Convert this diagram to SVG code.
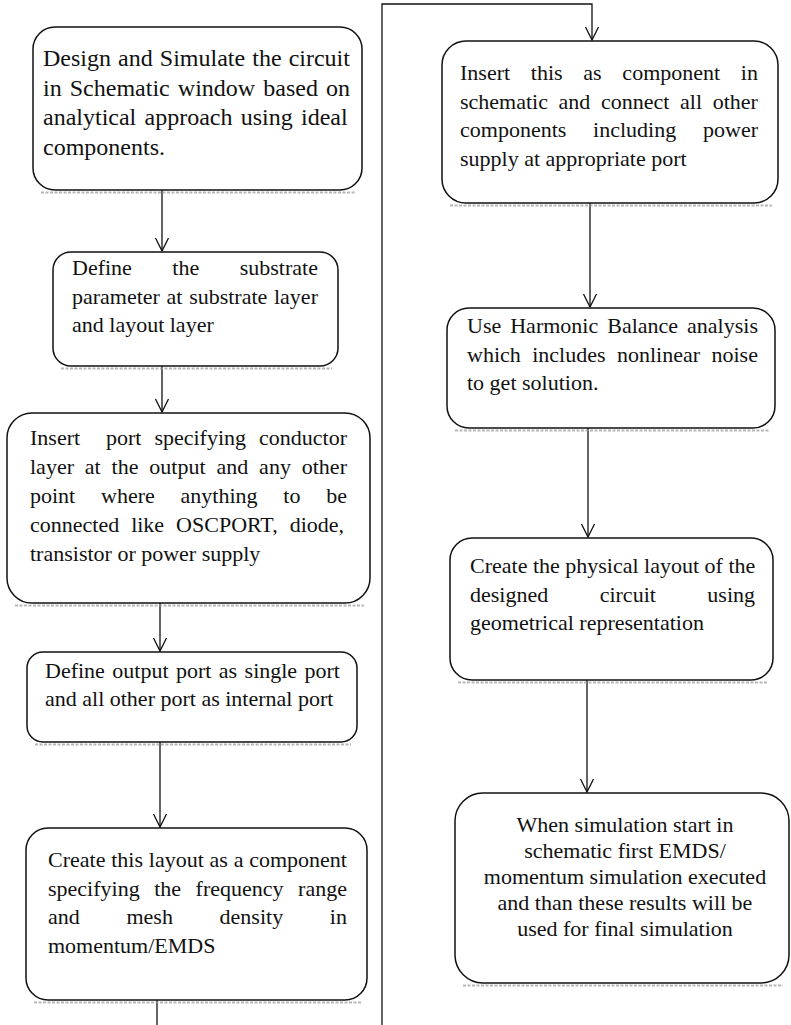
<svg xmlns="http://www.w3.org/2000/svg" width="791" height="1025" viewBox="0 0 791 1025">
<style>
.box{fill:#fff;stroke:#111;stroke-width:1.5}
.sh{stroke:#9a9a9a;stroke-width:2;stroke-dasharray:3 1.5;opacity:.7}
.t{font-family:"Liberation Serif","Times New Roman",serif;font-size:22px;fill:#111}
.t24{font-size:24px}
.c{text-anchor:middle}
.ln{fill:none;stroke:#111;stroke-width:1.3}
</style>
<defs>
<marker id="ah" markerUnits="userSpaceOnUse" markerWidth="16" markerHeight="16" viewBox="-1 -8 15 16" refX="13" refY="0" orient="auto">
<path d="M0,-6.5 L13,0 L0,6.5" fill="none" stroke="#111" stroke-width="1.3"/>
</marker>
</defs>
<rect width="791" height="1025" fill="#fff"/>

<g id="connectors">
<path class="ln" d="M162,190 V251" marker-end="url(#ah)"/>
<path class="ln" d="M162,366 V412" marker-end="url(#ah)"/>
<path class="ln" d="M160,603 V651" marker-end="url(#ah)"/>
<path class="ln" d="M160,742 V827" marker-end="url(#ah)"/>
<path class="ln" d="M157,1000 V1025"/>
<path class="ln" d="M382,1025 V4 H592 V40" marker-end="url(#ah)"/>
<path class="ln" d="M590,203 V307" marker-end="url(#ah)"/>
<path class="ln" d="M588,428 V537" marker-end="url(#ah)"/>
<path class="ln" d="M587,680 V792" marker-end="url(#ah)"/>
</g>

<g id="n1">
<line class="sh" x1="41" y1="192.5" x2="356" y2="192.5"/>
<rect class="box" x="33" y="27" width="329" height="163" rx="22"/>
<text class="t t24" x="43" y="66" word-spacing="1.09">Design and Simulate the circuit</text>
<text class="t t24" x="43" y="95.5" word-spacing="2.09">in Schematic window based on</text>
<text class="t t24" x="43" y="125" word-spacing="2.27">analytical approach using ideal</text>
<text class="t t24" x="43" y="154.5">components.</text>
</g>

<g id="n2">
<line class="sh" x1="61" y1="368.5" x2="332" y2="368.5"/>
<rect class="box" x="53" y="252" width="285" height="114" rx="18"/>
<text class="t" x="72" y="275" word-spacing="35">Define the substrate</text>
<text class="t" x="72" y="304" word-spacing="1.16">parameter at substrate layer</text>
<text class="t" x="72" y="332">and layout layer</text>
</g>

<g id="n3">
<line class="sh" x1="15" y1="605.5" x2="364" y2="605.5"/>
<rect class="box" x="7" y="413" width="363" height="190" rx="25"/>
<text class="t" x="30" y="445" word-spacing="7.46" xml:space="preserve">Insert  port specifying conductor</text>
<text class="t" x="30" y="474" word-spacing="5.38">layer at the output and any other</text>
<text class="t" x="30" y="503" word-spacing="20.28">point where anything to be</text>
<text class="t" x="30" y="532" word-spacing="6.47">connected like OSCPORT, diode,</text>
<text class="t" x="30" y="561">transistor or power supply</text>
</g>

<g id="n4">
<line class="sh" x1="35" y1="744.5" x2="351" y2="744.5"/>
<rect class="box" x="27" y="652" width="330" height="90" rx="16"/>
<text class="t" x="45" y="678" word-spacing="1.93">Define output port as single port</text>
<text class="t" x="45" y="706">and all other port as internal port</text>
</g>

<g id="n5">
<line class="sh" x1="34" y1="1002.5" x2="361" y2="1002.5"/>
<rect class="box" x="26" y="828" width="341" height="172" rx="22"/>
<text class="t" x="48" y="867" word-spacing="0.29">Create this layout as a component</text>
<text class="t" x="48" y="895.5" word-spacing="9.05">specifying the frequency range</text>
<text class="t" x="48" y="924" word-spacing="41.2">and mesh density in</text>
<text class="t" x="48" y="952.5">momentum/EMDS</text>
</g>

<g id="n6">
<line class="sh" x1="450" y1="205.5" x2="772" y2="205.5"/>
<rect class="box" x="442" y="41" width="336" height="162" rx="24"/>
<text class="t" x="460" y="80" word-spacing="15.22">Insert this as component in</text>
<text class="t" x="460" y="108.5" word-spacing="5.15">schematic and connect all other</text>
<text class="t" x="460" y="137" word-spacing="21.3">components including power</text>
<text class="t" x="460" y="165.5">supply at appropriate port</text>
</g>

<g id="n7">
<line class="sh" x1="455" y1="430.5" x2="769" y2="430.5"/>
<rect class="box" x="447" y="308" width="328" height="120" rx="22"/>
<text class="t" x="467" y="333" word-spacing="3.52">Use Harmonic Balance analysis</text>
<text class="t" x="467" y="361.5" word-spacing="5.95">which includes nonlinear noise</text>
<text class="t" x="467" y="390">to get solution.</text>
</g>

<g id="n8">
<line class="sh" x1="458" y1="682.5" x2="767" y2="682.5"/>
<rect class="box" x="450" y="538" width="323" height="142" rx="22"/>
<text class="t" x="470" y="573">Create the physical layout of the</text>
<text class="t" x="470" y="601.5" word-spacing="45.96">designed circuit using</text>
<text class="t" x="470" y="630">geometrical representation</text>
</g>

<g id="n9">
<line class="sh" x1="463" y1="985.5" x2="783" y2="985.5"/>
<rect class="box" x="455" y="793" width="334" height="190" rx="28"/>
<text class="t c" x="625" y="832">When simulation start in</text>
<text class="t c" x="625" y="858">schematic first EMDS/</text>
<text class="t c" x="625" y="884">momentum simulation executed</text>
<text class="t c" x="625" y="910">and than these results will be</text>
<text class="t c" x="625" y="936">used for final simulation</text>
</g>
</svg>
